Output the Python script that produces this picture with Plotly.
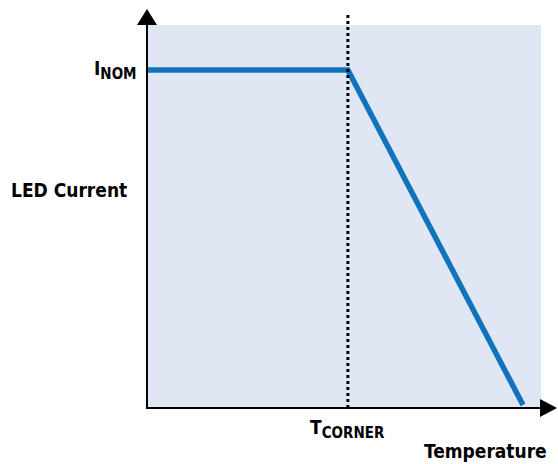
import plotly.graph_objects as go

# data (arbitrary units)
temperature = [0, 53.3, 100]
led_current = [100, 100, 0]
t_corner = 53.3

W, H = 558, 464
L, R, T, B = 148, 17, 25, 56
pw, ph = W - L - R, H - T - B

def px(xp):
    return (xp - L) / pw

def py(yp):
    return (H - B - yp) / ph

FONT = "DejaVu Sans Condensed, Liberation Sans Narrow, sans-serif"
BLUE = "#1173bb"
BG = "#dfe7f4"

fig = go.Figure()
fig.add_trace(go.Scatter(x=temperature, y=led_current, mode="lines",
                         line=dict(color=BLUE, width=5.5), hoverinfo="skip",
                         showlegend=False))

shapes = [
    # dotted corner line
    dict(type="line", xref="x", yref="paper", x0=t_corner, x1=t_corner,
         y0=0, y1=py(14), line=dict(color="black", width=3, dash="3px,3px")),
    # y axis
    dict(type="line", xref="paper", yref="paper", x0=px(147), x1=px(147),
         y0=py(409), y1=py(24), line=dict(color="black", width=2)),
    dict(type="path", xref="paper", yref="paper",
         path=f"M {px(137)} {py(25)} L {px(157)} {py(25)} L {px(147)} {py(9)} Z",
         fillcolor="black", line=dict(width=0)),
    # x axis
    dict(type="line", xref="paper", yref="paper", x0=px(146), x1=px(541),
         y0=py(408), y1=py(408), line=dict(color="black", width=2)),
    dict(type="path", xref="paper", yref="paper",
         path=f"M {px(540)} {py(399)} L {px(540)} {py(417)} L {px(557)} {py(408)} Z",
         fillcolor="black", line=dict(width=0)),
]

SUB = '<sub><span style="font-size:15px">{}</span></sub>'
tf = dict(family=FONT, size=19, color="#000000", weight="bold")
annotations = [
    dict(text="I" + SUB.format("NOM"), xref="paper", yref="y", x=px(139), y=100,
         xanchor="right", yanchor="middle", showarrow=False, font=tf),
    dict(text="LED Current", xref="paper", yref="paper", x=px(129), y=py(190),
         xanchor="right", yanchor="middle", showarrow=False, font=tf),
    dict(text="T" + SUB.format("CORNER"), xref="x", yref="paper", x=t_corner, y=py(414),
         xanchor="center", yanchor="top", showarrow=False, font=tf),
    dict(text="Temperature", xref="paper", yref="paper", x=px(549), y=py(451),
         xanchor="right", yanchor="middle", showarrow=False, font=tf),
]

fig.update_layout(
    width=W, height=H, margin=dict(l=L, r=R, t=T, b=B, pad=0),
    paper_bgcolor="white", plot_bgcolor=BG,
    xaxis=dict(range=[0, (541 - 148) / 3.75], showgrid=False, zeroline=False,
               showticklabels=False, ticks="", showline=False, fixedrange=True),
    yaxis=dict(range=[100 - (408 - 70) / 3.35, 100 + (70 - 25) / 3.35],
               showgrid=False, zeroline=False, showticklabels=False, ticks="",
               showline=False, fixedrange=True),
    shapes=shapes, annotations=annotations, hovermode=False,
)

fig.write_html("out.html", config={"displayModeBar": False})

with open("out.html", "r", encoding="utf-8") as f:
    html = f.read()
html = html.replace("<head>", "<head><style>html,body{margin:0;padding:0;overflow:hidden;}</style>", 1)
with open("out.html", "w", encoding="utf-8") as f:
    f.write(html)
